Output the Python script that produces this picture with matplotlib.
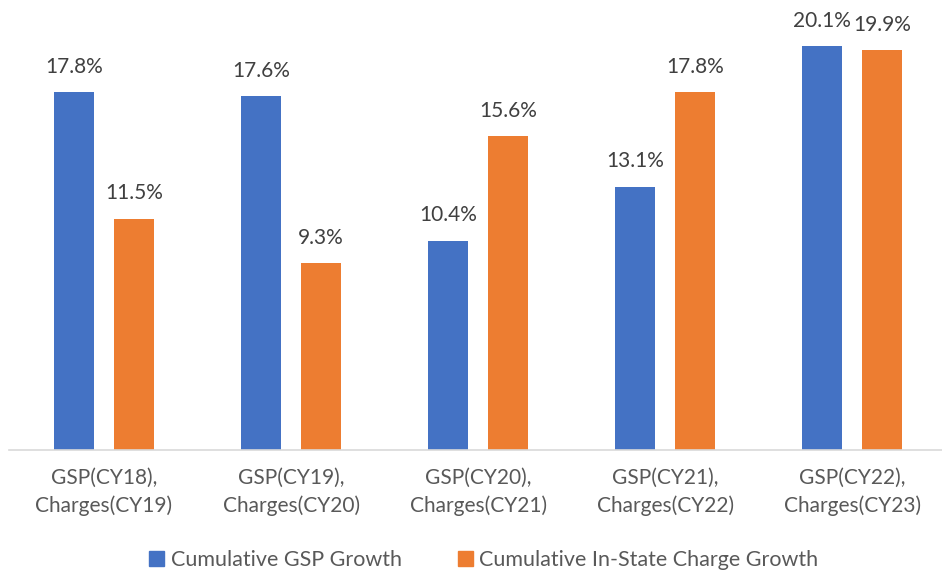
import matplotlib
matplotlib.use("Agg")
import matplotlib.pyplot as plt
import numpy as np
from matplotlib.patches import Patch

plt.rcParams["font.family"] = ["Lato", "DejaVu Sans"]

# Chart data
categories = [
    "GSP(CY18),\nCharges(CY19)",
    "GSP(CY19),\nCharges(CY20)",
    "GSP(CY20),\nCharges(CY21)",
    "GSP(CY21),\nCharges(CY22)",
    "GSP(CY22),\nCharges(CY23)",
]
gsp_growth = [17.8, 17.6, 10.4, 13.1, 20.1]
charge_growth = [11.5, 9.3, 15.6, 17.8, 19.9]
series_names = ["Cumulative GSP Growth", "Cumulative In-State Charge Growth"]

BLUE = "#4472C4"
ORANGE = "#ED7D31"
LABEL_COLOR = "#404040"
TICK_COLOR = "#595959"
BAR_WIDTH = 0.214
OFFSET = 0.16
FONT_SIZE = 15

fig = plt.figure(figsize=(9.42, 5.73), dpi=100)
ax = fig.add_axes([9 / 942, (573 - 449.5) / 573, 933 / 942, (449.5 - 11.5) / 573])

x = np.arange(len(categories))
bars_gsp = ax.bar(x - OFFSET, gsp_growth, BAR_WIDTH, color=BLUE)
bars_chg = ax.bar(x + OFFSET, charge_growth, BAR_WIDTH, color=ORANGE)

for bars, values in ((bars_gsp, gsp_growth), (bars_chg, charge_growth)):
    for bar, val in zip(bars, values):
        ax.annotate(
            f"{val:.1f}%",
            (bar.get_x() + bar.get_width() / 2, bar.get_height()),
            xytext=(0, 11),
            textcoords="offset points",
            ha="center",
            va="bottom",
            fontsize=FONT_SIZE,
            color=LABEL_COLOR,
        )

ax.set_xlim(-0.508, 4.48)
ax.set_ylim(0, (449.5 - 11.5) / 20.07)
ax.set_xticks(x)
ax.set_xticklabels(categories, fontsize=FONT_SIZE, color=TICK_COLOR, linespacing=1.5)
ax.tick_params(axis="x", length=0, pad=13)
ax.set_yticks([])
for side in ("top", "left", "right"):
    ax.spines[side].set_visible(False)
ax.spines["bottom"].set_color("#D9D9D9")
ax.spines["bottom"].set_linewidth(1.2)

handles = [Patch(color=BLUE), Patch(color=ORANGE)]
fig.legend(
    handles,
    series_names,
    loc="center",
    bbox_to_anchor=(484 / 942, 1 - 560 / 573),
    ncol=2,
    frameon=False,
    fontsize=15.5,
    labelcolor=TICK_COLOR,
    handlelength=0.7,
    handleheight=0.7,
    handletextpad=0.3,
    columnspacing=2.6,
    borderpad=0,
)

fig.savefig("out.png", dpi=100)
